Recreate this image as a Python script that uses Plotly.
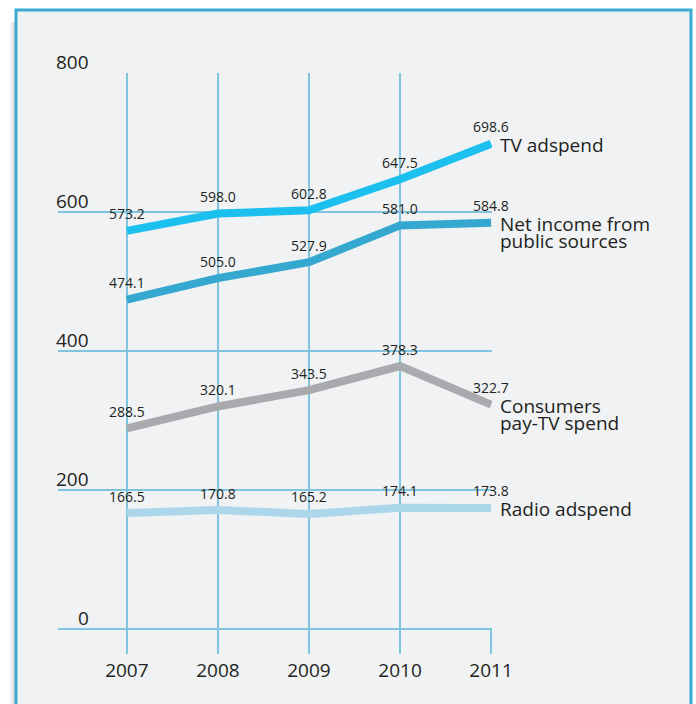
import plotly.graph_objects as go

years = [2007, 2008, 2009, 2010, 2011]
tv_adspend = [573.2, 598.0, 602.8, 647.5, 698.6]
net_income = [474.1, 505.0, 527.9, 581.0, 584.8]
consumers_paytv = [288.5, 320.1, 343.5, 378.3, 322.7]
radio_adspend = [166.5, 170.8, 165.2, 174.1, 173.8]
y_ticks = [0, 200, 400, 600, 800]

series = [
    ("TV adspend", tv_adspend, "#1cc0ef"),
    ("Net income from<br>public sources", net_income, "#35a8cf"),
    ("Consumers<br>pay-TV spend", consumers_paytv, "#a9aaad"),
    ("Radio adspend", radio_adspend, "#acd7ea"),
]

W, H = 696, 704
ML, MT = 58, 73
MR = W - 492
MB = H - 629
PW, PH = W - ML - MR, H - MT - MB
GRID = "#80c4df"
TEXT = "#231f20"
FONT = "Open Sans"


def px_x(p):
    return (p - ML) / PW


def px_y(p):
    return 1 - (p - MT) / PH


fig = go.Figure()

for name, vals, color in series:
    fig.add_trace(go.Scatter(
        x=years, y=vals, mode="lines", name=name.replace("<br>", " "),
        line=dict(color=color, width=8), showlegend=False, hoverinfo="skip",
    ))

annotations = []
for name, vals, color in series:
    for xv, yv in zip(years, vals):
        annotations.append(dict(
            x=xv, y=yv, xref="x", yref="y", text=f"{yv:.1f}", showarrow=False,
            xanchor="center", yanchor="middle", yshift=17,
            font=dict(family=FONT, size=14, color=TEXT),
        ))
    for i, line in enumerate(name.split("<br>")):
        annotations.append(dict(
            x=years[-1], y=vals[-1], xref="x", yref="y", text=line, showarrow=False,
            xanchor="left", yanchor="middle", xshift=7, yshift=-1 - 17.5 * i,
            font=dict(family=FONT, size=19, color=TEXT),
        ))

for t in y_ticks:
    annotations.append(dict(
        x=0, y=t, xref="paper", yref="y", text=str(t), showarrow=False,
        xanchor="right", yanchor="bottom", xshift=33, yshift=-4,
        font=dict(family=FONT, size=19, color=TEXT),
    ))

shapes = []
# left shadow
for i, op in enumerate([0.05, 0.08, 0.12, 0.18]):
    shapes.append(dict(
        type="rect", xref="paper", yref="paper", layer="below",
        x0=px_x(9 + i * 1.8), x1=px_x(16), y0=px_y(H + 30), y1=px_y(22),
        fillcolor="#808080", opacity=op, line=dict(width=0),
    ))
# framed panel
shapes.append(dict(
    type="rect", xref="paper", yref="paper", layer="below",
    x0=px_x(16), x1=px_x(691), y0=px_y(H + 30), y1=px_y(10),
    fillcolor="#f0f2f4", line=dict(color="#3aaad1", width=3),
))

fig.update_layout(
    width=W, height=H,
    margin=dict(l=ML, r=MR, t=MT, b=MB),
    paper_bgcolor="white", plot_bgcolor="rgba(0,0,0,0)",
    annotations=annotations, shapes=shapes,
    font=dict(family=FONT, size=19, color=TEXT),
)
fig.update_xaxes(
    range=[2007 - 69 / 91.25, 2011.01], tickvals=years, ticktext=[str(y) for y in years],
    showgrid=True, gridcolor=GRID, gridwidth=2, zeroline=False, showline=False,
    ticks="outside", ticklen=24, tickwidth=2, tickcolor=GRID,
    tickfont=dict(family=FONT, size=19, color=TEXT),
)
fig.update_yaxes(
    range=[-0.6, 800.6], tickvals=y_ticks, showticklabels=False,
    showgrid=True, gridcolor=GRID, gridwidth=2,
    zeroline=True, zerolinecolor=GRID, zerolinewidth=2, showline=False, ticks="",
)

page_css = (
    "document.body.style.margin='0';"
    "document.body.style.overflow='hidden';"
    "document.documentElement.style.overflow='hidden';"
)
fig.write_html("out.html", post_script=page_css, config={"displayModeBar": False})
